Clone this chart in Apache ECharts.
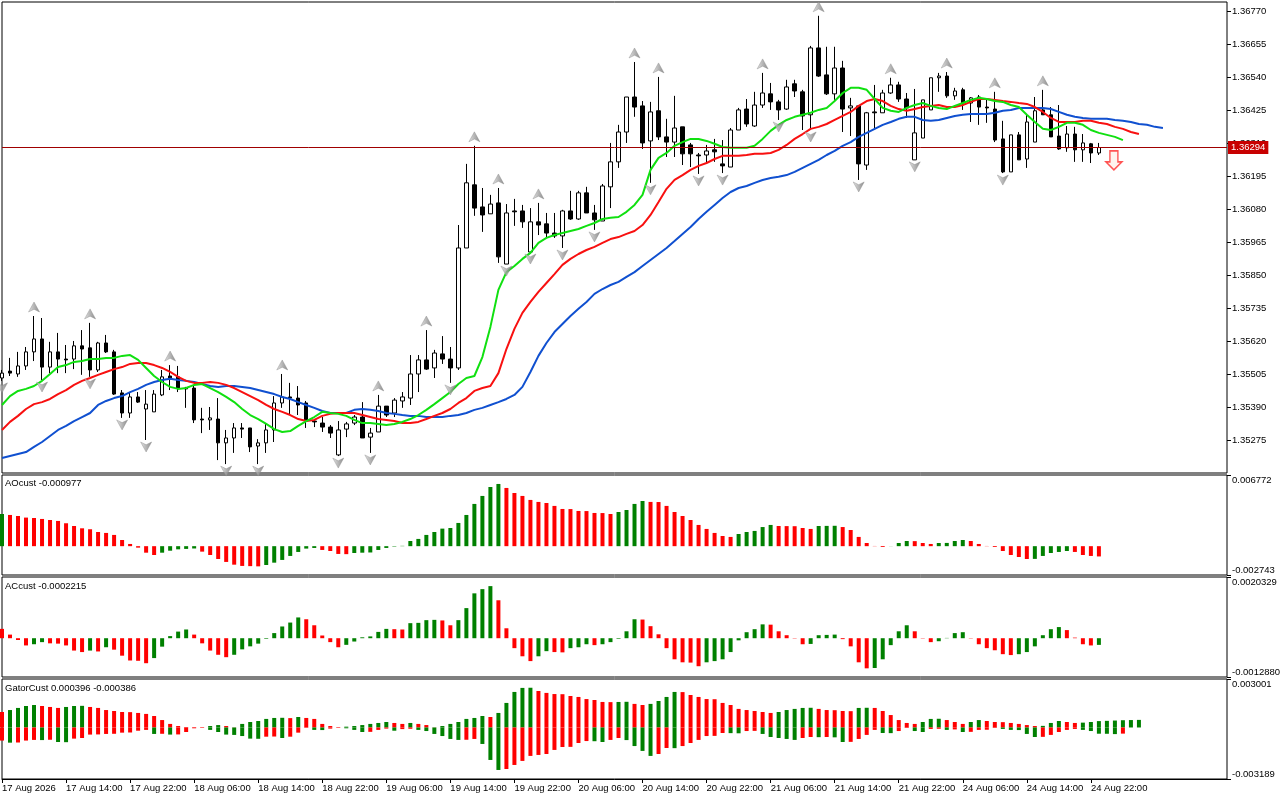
<!DOCTYPE html>
<html><head><meta charset="utf-8">
<script src="https://cdn.jsdelivr.net/npm/echarts@6/dist/echarts.min.js"></script>
<style>html,body{margin:0;padding:0;background:#fff}#c{width:1280px;height:800px}</style>
</head><body><div id="c"></div>
<script>
const tickLabels = ['17 Aug 2026','17 Aug 14:00','17 Aug 22:00','18 Aug 06:00','18 Aug 14:00','18 Aug 22:00','19 Aug 06:00','19 Aug 14:00','19 Aug 22:00','20 Aug 06:00','20 Aug 14:00','20 Aug 22:00','21 Aug 06:00','21 Aug 14:00','21 Aug 22:00','24 Aug 06:00','24 Aug 14:00','24 Aug 22:00'];
const priceTicks = [1.35275,1.35390,1.35505,1.35620,1.35735,1.35850,1.35965,1.36080,1.36195,1.36310,1.36425,1.36540,1.36655,1.36770];
const aoRange = [-0.002743, 0.006772];
const acRange = [-0.0012880, 0.0020329];
const gatorRange = [-0.003189, 0.003001];

const opens = [1.35491,1.35515,1.35505,1.35533,1.35582,1.35627,1.35529,1.35582,1.35557,1.35557,
1.35603,1.35596,1.35519,1.35613,1.35582,1.35439,1.35369,1.35425,1.35383,1.35373,
1.35432,1.35498,1.35495,1.35456,1.35456,1.35348,1.35345,1.35348,1.35265,1.35282,
1.35317,1.35317,1.35254,1.35265,1.35310,1.35404,1.35425,1.35421,1.35404,1.35341,
1.35334,1.35320,1.35223,1.35313,1.35334,1.35355,1.35285,1.35303,1.35393,1.35369,
1.35411,1.35421,1.35505,1.35554,1.35526,1.35575,1.35557,1.35526,1.35944,1.36164,
1.36087,1.36063,1.36101,1.35888,1.36073,1.36073,1.35930,1.36035,1.36028,1.35996,
1.35986,1.36073,1.36045,1.36136,1.36066,1.36038,1.36157,1.36244,1.36348,1.36470,
1.36439,1.36317,1.36422,1.36331,1.36313,1.36366,1.36303,1.36268,1.36268,1.36286,
1.36237,1.36226,1.36355,1.36428,1.36369,1.36442,1.36481,1.36453,1.36428,1.36516,
1.36488,1.36408,1.36641,1.36547,1.36481,1.36571,1.36432,1.36439,1.36233,1.36418,
1.36415,1.36484,1.36512,1.36463,1.36251,1.36327,1.36425,1.36537,1.36543,1.36474,
1.36495,1.36449,1.36470,1.36435,1.36428,1.36324,1.36209,1.36338,1.36254,1.36313,
1.36425,1.36408,1.36334,1.36293,1.36341,1.36286,1.36307,1.36275];
const closes = [1.35508,1.35508,1.35533,1.35582,1.35627,1.35529,1.35582,1.35557,1.35554,1.35603,
1.35592,1.35519,1.35613,1.35582,1.35435,1.35369,1.35425,1.35407,1.35400,1.35435,
1.35495,1.35491,1.35456,1.35453,1.35345,1.35345,1.35352,1.35265,1.35282,1.35317,
1.35313,1.35251,1.35265,1.35310,1.35404,1.35425,1.35421,1.35397,1.35341,1.35338,
1.35320,1.35299,1.35310,1.35331,1.35355,1.35282,1.35299,1.35393,1.35362,1.35414,
1.35425,1.35505,1.35554,1.35522,1.35578,1.35557,1.35526,1.35944,1.36171,1.36083,
1.36059,1.36097,1.35913,1.36066,1.36070,1.36035,1.36035,1.36024,1.35996,1.35986,
1.36073,1.36045,1.36136,1.36066,1.36042,1.36160,1.36244,1.36348,1.36470,1.36435,
1.36310,1.36418,1.36331,1.36313,1.36362,1.36272,1.36272,1.36265,1.36282,1.36279,
1.36230,1.36355,1.36425,1.36376,1.36442,1.36484,1.36453,1.36425,1.36505,1.36491,
1.36404,1.36641,1.36543,1.36481,1.36571,1.36428,1.36439,1.36237,1.36415,1.36415,
1.36484,1.36512,1.36463,1.36432,1.36345,1.36460,1.36537,1.36543,1.36474,1.36491,
1.36449,1.36467,1.36435,1.36432,1.36320,1.36209,1.36338,1.36251,1.36383,1.36422,
1.36408,1.36331,1.36289,1.36341,1.36286,1.36310,1.36275,1.36294];
const lows = [1.35481,1.35498,1.35495,1.35519,1.35550,1.35484,1.35508,1.35508,1.35508,1.35522,
1.35502,1.35495,1.35512,1.35578,1.35432,1.35352,1.35352,1.35404,1.35275,1.35373,
1.35428,1.35449,1.35442,1.35387,1.35334,1.35299,1.35310,1.35205,1.35191,1.35230,
1.35282,1.35233,1.35191,1.35230,1.35268,1.35387,1.35362,1.35362,1.35317,1.35320,
1.35303,1.35282,1.35219,1.35285,1.35327,1.35282,1.35230,1.35303,1.35355,1.35355,
1.35387,1.35397,1.35442,1.35519,1.35491,1.35540,1.35474,1.35519,1.35944,1.36056,
1.36000,1.36063,1.35892,1.35888,1.36021,1.36014,1.35930,1.35989,1.35979,1.35979,
1.35944,1.36042,1.36042,1.36066,1.36007,1.36038,1.36083,1.36223,1.36310,1.36401,
1.36289,1.36171,1.36320,1.36261,1.36261,1.36233,1.36226,1.36202,1.36240,1.36244,
1.36205,1.36226,1.36355,1.36366,1.36366,1.36432,1.36425,1.36390,1.36425,1.36470,
1.36355,1.36355,1.36540,1.36477,1.36460,1.36348,1.36334,1.36181,1.36216,1.36355,
1.36415,1.36481,1.36453,1.36397,1.36251,1.36327,1.36425,1.36488,1.36467,1.36460,
1.36425,1.36383,1.36373,1.36380,1.36313,1.36205,1.36209,1.36251,1.36223,1.36313,
1.36408,1.36331,1.36286,1.36279,1.36244,1.36244,1.36240,1.36268];
const highs = [1.35519,1.35561,1.35582,1.35599,1.35707,1.35700,1.35617,1.35648,1.35606,1.35620,
1.35658,1.35683,1.35617,1.35641,1.35589,1.35449,1.35442,1.35442,1.35449,1.35449,
1.35519,1.35536,1.35533,1.35460,1.35467,1.35387,1.35390,1.35421,1.35310,1.35334,
1.35334,1.35317,1.35278,1.35331,1.35428,1.35505,1.35474,1.35463,1.35411,1.35348,
1.35355,1.35327,1.35341,1.35338,1.35362,1.35407,1.35317,1.35432,1.35393,1.35421,
1.35442,1.35571,1.35571,1.35658,1.35589,1.35637,1.35599,1.36024,1.36237,1.36300,
1.36153,1.36129,1.36153,1.36097,1.36115,1.36094,1.36083,1.36101,1.36066,1.36066,
1.36077,1.36143,1.36143,1.36157,1.36094,1.36167,1.36310,1.36373,1.36470,1.36592,
1.36456,1.36453,1.36540,1.36394,1.36474,1.36366,1.36310,1.36275,1.36303,1.36324,
1.36320,1.36362,1.36432,1.36463,1.36488,1.36554,1.36519,1.36460,1.36530,1.36530,
1.36495,1.36648,1.36753,1.36645,1.36645,1.36596,1.36467,1.36442,1.36418,1.36512,
1.36495,1.36537,1.36523,1.36484,1.36498,1.36460,1.36537,1.36554,1.36557,1.36502,
1.36502,1.36470,1.36477,1.36460,1.36488,1.36387,1.36338,1.36348,1.36408,1.36470,
1.36495,1.36435,1.36442,1.36369,1.36366,1.36341,1.36310,1.36310];

const jaw = [1.35212,1.35219,1.35226,1.35233,1.35251,1.35268,1.35289,1.35310,1.35324,1.35341,
1.35355,1.35369,1.35397,1.35411,1.35421,1.35428,1.35442,1.35453,1.35467,1.35477,
1.35484,1.35488,1.35484,1.35481,1.35477,1.35470,1.35463,1.35460,1.35463,1.35463,
1.35460,1.35456,1.35449,1.35442,1.35435,1.35425,1.35418,1.35407,1.35397,1.35387,
1.35376,1.35369,1.35369,1.35369,1.35380,1.35383,1.35380,1.35376,1.35369,1.35366,
1.35362,1.35359,1.35359,1.35355,1.35355,1.35355,1.35359,1.35362,1.35369,1.35380,
1.35387,1.35397,1.35407,1.35418,1.35432,1.35460,1.35512,1.35568,1.35613,1.35651,
1.35679,1.35707,1.35732,1.35756,1.35784,1.35801,1.35815,1.35826,1.35843,1.35860,
1.35881,1.35902,1.35923,1.35944,1.35968,1.35993,1.36017,1.36045,1.36070,1.36094,
1.36118,1.36139,1.36153,1.36160,1.36171,1.36181,1.36188,1.36192,1.36198,1.36209,
1.36223,1.36237,1.36251,1.36268,1.36282,1.36300,1.36313,1.36331,1.36345,1.36359,
1.36373,1.36383,1.36394,1.36401,1.36401,1.36390,1.36387,1.36390,1.36397,1.36404,
1.36408,1.36411,1.36411,1.36411,1.36415,1.36422,1.36425,1.36432,1.36432,1.36432,
1.36432,1.36428,1.36418,1.36408,1.36401,1.36397,1.36394,1.36394,1.36394,1.36390,
1.36387,1.36383,1.36376,1.36373,1.36366,1.36362];
const teeth = [1.35310,1.35338,1.35359,1.35383,1.35400,1.35407,1.35418,1.35435,1.35449,1.35467,
1.35481,1.35491,1.35502,1.35512,1.35522,1.35529,1.35540,1.35543,1.35543,1.35536,
1.35526,1.35512,1.35495,1.35481,1.35474,1.35474,1.35477,1.35474,1.35467,1.35456,
1.35442,1.35428,1.35414,1.35397,1.35383,1.35373,1.35362,1.35348,1.35341,1.35345,
1.35359,1.35366,1.35369,1.35369,1.35369,1.35362,1.35355,1.35348,1.35345,1.35341,
1.35334,1.35334,1.35338,1.35348,1.35359,1.35369,1.35383,1.35404,1.35421,1.35446,
1.35456,1.35463,1.35508,1.35592,1.35662,1.35718,1.35756,1.35791,1.35822,1.35853,
1.35885,1.35906,1.35923,1.35937,1.35948,1.35962,1.35975,1.35982,1.35993,1.36003,
1.36024,1.36059,1.36104,1.36150,1.36181,1.36198,1.36216,1.36230,1.36240,1.36254,
1.36265,1.36265,1.36265,1.36268,1.36272,1.36272,1.36275,1.36286,1.36303,1.36324,
1.36341,1.36359,1.36366,1.36376,1.36390,1.36404,1.36418,1.36439,1.36456,1.36463,
1.36456,1.36439,1.36428,1.36422,1.36428,1.36435,1.36439,1.36442,1.36435,1.36435,
1.36442,1.36453,1.36463,1.36463,1.36460,1.36456,1.36453,1.36449,1.36446,1.36435,
1.36418,1.36397,1.36383,1.36383,1.36383,1.36387,1.36387,1.36380,1.36376,1.36366,
1.36359,1.36348,1.36341];
const lips = [1.35397,1.35428,1.35446,1.35453,1.35463,1.35481,1.35505,1.35529,1.35536,1.35547,
1.35550,1.35557,1.35557,1.35561,1.35561,1.35568,1.35571,1.35554,1.35526,1.35498,
1.35477,1.35460,1.35453,1.35456,1.35467,1.35470,1.35456,1.35442,1.35425,1.35407,
1.35383,1.35362,1.35348,1.35331,1.35313,1.35303,1.35306,1.35324,1.35341,1.35355,
1.35373,1.35369,1.35366,1.35359,1.35345,1.35334,1.35334,1.35331,1.35327,1.35331,
1.35338,1.35348,1.35362,1.35380,1.35400,1.35421,1.35442,1.35470,1.35491,1.35498,
1.35564,1.35669,1.35798,1.35860,1.35881,1.35906,1.35927,1.35962,1.35979,1.35989,
1.35996,1.36003,1.36010,1.36021,1.36031,1.36045,1.36049,1.36052,1.36070,1.36094,
1.36129,1.36216,1.36258,1.36275,1.36300,1.36313,1.36324,1.36324,1.36317,1.36307,
1.36296,1.36293,1.36293,1.36293,1.36300,1.36324,1.36352,1.36373,1.36390,1.36401,
1.36408,1.36415,1.36425,1.36432,1.36456,1.36484,1.36502,1.36502,1.36495,1.36463,
1.36432,1.36422,1.36418,1.36432,1.36442,1.36449,1.36439,1.36432,1.36428,1.36439,
1.36449,1.36460,1.36467,1.36463,1.36456,1.36453,1.36442,1.36435,1.36408,1.36383,
1.36359,1.36355,1.36366,1.36380,1.36380,1.36373,1.36355,1.36345,1.36338,1.36331,
1.36320];

const upFractals = [4,11,21,35,47,53,59,62,67,79,82,95,102,111,118,124,130];
const downFractals = [0,5,11,15,18,28,32,42,46,56,63,66,70,74,81,87,90,97,101,107,114,125];
const sellSignal = [139, 1.36249];

const ao = [0.00306,0.00297,0.00287,0.00272,0.00268,0.00259,0.00249,0.00240,0.00218,0.00192,
0.00170,0.00161,0.00135,0.00126,0.00107,0.00059,0.00021,-0.00014,-0.00062,-0.00084,
-0.00062,-0.00043,-0.00030,-0.00026,-0.00022,-0.00052,-0.00084,-0.00122,-0.00150,-0.00176,
-0.00188,-0.00190,-0.00192,-0.00179,-0.00157,-0.00131,-0.00093,-0.00055,-0.00023,-0.00017,
-0.00036,-0.00046,-0.00074,-0.00076,-0.00065,-0.00062,-0.00060,-0.00036,-0.00017,-0.00004,
0.00003,0.00049,0.00069,0.00107,0.00135,0.00167,0.00173,0.00221,0.00297,0.00402,
0.00478,0.00563,0.00592,0.00554,0.00506,0.00478,0.00440,0.00421,0.00411,0.00383,
0.00354,0.00353,0.00335,0.00334,0.00316,0.00315,0.00306,0.00325,0.00344,0.00402,
0.00430,0.00421,0.00420,0.00383,0.00325,0.00287,0.00249,0.00202,0.00164,0.00126,
0.00097,0.00088,0.00116,0.00135,0.00145,0.00182,0.00202,0.00192,0.00191,0.00190,
0.00173,0.00164,0.00192,0.00193,0.00194,0.00182,0.00154,0.00088,0.00030,0.00002,
-0.00008,-0.00001,0.00030,0.00049,0.00048,0.00030,0.00021,0.00030,0.00031,0.00049,
0.00059,0.00049,0.00021,0.00002,-0.00008,-0.00046,-0.00084,-0.00103,-0.00122,-0.00121,
-0.00093,-0.00065,-0.00055,-0.00046,-0.00055,-0.00084,-0.00093,-0.000977];
const ac = [0.00031,0.00012,-0.00006,-0.00024,-0.00020,-0.00013,-0.00017,-0.00018,-0.00024,-0.00041,
-0.00046,-0.00041,-0.00044,-0.00030,-0.00038,-0.00058,-0.00074,-0.00075,-0.00083,-0.00066,
-0.00028,0.00007,0.00022,0.00029,0.00012,-0.00017,-0.00041,-0.00055,-0.00063,-0.00055,
-0.00037,-0.00027,-0.00018,-0.00002,0.00017,0.00039,0.00052,0.00069,0.00063,0.00043,
0.00009,-0.00013,-0.00030,-0.00022,-0.00011,0.00003,0.00006,0.00021,0.00031,0.00030,
0.00029,0.00050,0.00051,0.00060,0.00061,0.00059,0.00043,0.00060,0.00100,0.00149,
0.00163,0.00173,0.00126,0.00033,-0.00033,-0.00060,-0.00076,-0.00060,-0.00043,-0.00046,
-0.00047,-0.00033,-0.00030,-0.00020,-0.00023,-0.00020,-0.00013,-0.00002,0.00023,0.00063,
0.00062,0.00040,0.00013,-0.00033,-0.00070,-0.00080,-0.00081,-0.00093,-0.00080,-0.00076,
-0.00070,-0.00046,-0.00007,0.00020,0.00030,0.00046,0.00045,0.00023,0.00010,-0.00001,
-0.00020,-0.00019,0.00010,0.00011,0.00012,-0.00003,-0.00027,-0.00080,-0.00100,-0.00099,
-0.00070,-0.00023,0.00023,0.00043,0.00023,-0.00001,-0.00013,-0.00010,0.00001,0.00017,
0.00020,-0.00001,-0.00020,-0.00033,-0.00040,-0.00053,-0.00056,-0.00053,-0.00046,-0.00027,
0.00010,0.00030,0.00037,0.00027,0.00002,-0.00020,-0.00024,-0.0002215];
const gatorUp = [0.00096,0.00108,0.00121,0.00133,0.00139,0.00133,0.00127,0.00121,0.00127,0.00133,
0.00134,0.00127,0.00121,0.00108,0.00102,0.00096,0.00095,0.00090,0.00084,0.00071,
0.00046,0.00022,0.00009,0.00003,0.00002,0.00001,0.00009,0.00015,0.00009,0.00001,
0.00022,0.00034,0.00040,0.00053,0.00059,0.00060,0.00058,0.00065,0.00059,0.00053,
0.00022,0.00009,0.00003,0.00005,0.00009,0.00015,0.00022,0.00028,0.00034,0.00028,
0.00022,0.00028,0.00022,0.00015,0.00001,0.00009,0.00022,0.00034,0.00053,0.00059,
0.00071,0.00065,0.00090,0.00152,0.00220,0.00245,0.00246,0.00226,0.00214,0.00207,
0.00206,0.00195,0.00189,0.00176,0.00170,0.00158,0.00157,0.00158,0.00159,0.00146,
0.00139,0.00146,0.00164,0.00189,0.00220,0.00219,0.00201,0.00189,0.00176,0.00175,
0.00152,0.00139,0.00115,0.00108,0.00102,0.00096,0.00090,0.00096,0.00108,0.00115,
0.00121,0.00122,0.00115,0.00108,0.00107,0.00102,0.00101,0.00121,0.00122,0.00121,
0.00102,0.00077,0.00046,0.00028,0.00022,0.00034,0.00053,0.00054,0.00046,0.00034,
0.00022,0.00034,0.00046,0.00040,0.00034,0.00033,0.00028,0.00022,0.00015,0.00009,
0.00010,0.00028,0.00040,0.00034,0.00028,0.00030,0.00034,0.000396,0.00041,0.00043,
0.00045,0.00046,0.00047];
const gatorDown = [-0.00081,-0.00094,-0.00093,-0.00081,-0.00077,-0.00078,-0.00076,-0.00090,-0.00091,-0.00069,
-0.00065,-0.00044,-0.00043,-0.00040,-0.00039,-0.00032,-0.00031,-0.00020,-0.00015,-0.00040,
-0.00039,-0.00044,-0.00043,-0.00028,-0.00005,-0.00003,-0.00015,-0.00028,-0.00044,-0.00046,
-0.00053,-0.00069,-0.00070,-0.00057,-0.00056,-0.00065,-0.00057,-0.00032,-0.00002,-0.00015,
-0.00016,-0.00007,-0.00001,-0.00005,-0.00015,-0.00028,-0.00027,-0.00015,-0.00007,-0.00020,
-0.00010,-0.00008,-0.00015,-0.00022,-0.00040,-0.00053,-0.00071,-0.00077,-0.00076,-0.00071,
-0.00102,-0.00201,-0.00263,-0.00257,-0.00232,-0.00207,-0.00176,-0.00170,-0.00164,-0.00139,
-0.00121,-0.00120,-0.00096,-0.00084,-0.00085,-0.00090,-0.00077,-0.00065,-0.00078,-0.00115,
-0.00145,-0.00176,-0.00164,-0.00127,-0.00128,-0.00115,-0.00096,-0.00077,-0.00053,-0.00052,
-0.00034,-0.00035,-0.00036,-0.00022,-0.00021,-0.00040,-0.00059,-0.00065,-0.00071,-0.00077,
-0.00065,-0.00059,-0.00060,-0.00059,-0.00061,-0.00090,-0.00089,-0.00071,-0.00046,-0.00015,
-0.00034,-0.00035,-0.00022,-0.00003,-0.00022,-0.00028,-0.00009,-0.00008,-0.00015,-0.00012,
-0.00028,-0.00027,-0.00015,-0.00014,-0.00003,-0.00009,-0.00015,-0.00016,-0.00040,-0.00059,
-0.00058,-0.00046,-0.00028,-0.00015,-0.00009,-0.00015,-0.00022,-0.000386,-0.00039,-0.00041,
-0.00038];

const BAR_SLOTS = 154;
const FONT = 'Liberation Sans';
const FS = 9.5;
const GREEN = '#008000', RED = '#ff0000';
const lastIdx = closes.length - 1;
const lastLabelIdx = (tickLabels.length - 1) * 8;

const cats = Array.from({length: BAR_SLOTS}, (_, i) => String(i));

function colorize(vals, first, useAbs) {
  return vals.map((v, i) => {
    let c = first;
    if (i > 0) {
      const a = useAbs ? Math.abs(v) : v;
      const b = useAbs ? Math.abs(vals[i - 1]) : vals[i - 1];
      c = a > b ? GREEN : RED;
    }
    return {value: v, itemStyle: {color: c}};
  });
}

const gridBase = {left: 2, right: 53, show: true, borderColor: '#000', borderWidth: 1,
  backgroundColor: '#fff', containLabel: false, outerBoundsMode: 'none'};
const grid = [
  Object.assign({top: 2, height: 471}, gridBase),
  Object.assign({top: 475, height: 100}, gridBase),
  Object.assign({top: 577, height: 100}, gridBase),
  Object.assign({top: 679, height: 100}, gridBase)
];

const showTick = (idx) => idx % 8 === 0 && idx <= lastLabelIdx;

const xAxis = [0, 1, 2, 3].map(k => ({
  type: 'category', data: cats, gridIndex: k, boundaryGap: false,
  axisLine: {show: k === 3, onZero: false, lineStyle: {color: '#000'}},
  axisTick: {show: k === 3, interval: showTick, length: 4, lineStyle: {color: '#000'}},
  axisLabel: {
    show: k === 3, interval: showTick, align: 'left', margin: 4,
    fontFamily: FONT, fontSize: FS, color: '#000',
    formatter: (v) => tickLabels[Number(v) / 8] || ''
  },
  splitLine: {show: false}
}));

function subAxis(k, range, digits) {
  return {
    type: 'value', gridIndex: k, position: 'right', min: range[0], max: range[1],
    splitLine: {show: false},
    axisLine: {show: false},
    axisTick: {show: true, length: 4, customValues: range, lineStyle: {color: '#000'}},
    axisLabel: {
      customValues: range, margin: 5, fontFamily: FONT, fontSize: FS, color: '#000',
      verticalAlignMinLabel: 'bottom', verticalAlignMaxLabel: 'top',
      formatter: v => v.toFixed(digits)
    }
  };
}

const yAxis = [
  {
    type: 'value', gridIndex: 0, position: 'right', min: 1.35160, max: 1.36801, scale: true,
    splitLine: {show: false},
    axisLine: {show: false},
    axisTick: {show: true, length: 4, customValues: priceTicks, lineStyle: {color: '#000'}},
    axisLabel: {customValues: priceTicks, margin: 5, fontFamily: FONT, fontSize: FS, color: '#000',
      formatter: v => v.toFixed(5)}
  },
  subAxis(1, aoRange, 6),
  subAxis(2, acRange, 7),
  subAxis(3, gatorRange, 6)
];

const fractalColor = {type: 'linear', x: 0, y: 0, x2: 1, y2: 0,
  colorStops: [{offset: 0, color: '#dcdcdc'}, {offset: 0.5, color: '#a4a4a4'}, {offset: 1, color: '#707070'}]};

const titleStyle = {fontFamily: FONT, fontSize: FS, fontWeight: 'normal', color: '#000'};

const option = {
  animation: false,
  backgroundColor: '#fff',
  title: [
    {text: 'AOcust ' + ao[lastIdx], left: 5, top: 478.5, padding: 0, textStyle: titleStyle},
    {text: 'ACcust ' + ac[lastIdx], left: 5, top: 581.5, padding: 0, textStyle: titleStyle},
    {text: 'GatorCust ' + gatorUp[lastIdx] + ' ' + gatorDown[lastIdx], left: 5, top: 683.5, padding: 0, textStyle: titleStyle}
  ],
  grid, xAxis, yAxis,
  series: [
    {
      type: 'candlestick', xAxisIndex: 0, yAxisIndex: 0, barWidth: 4, z: 2,
      data: opens.map((o, i) => [o, closes[i], lows[i], highs[i]]),
      itemStyle: {color: '#fff', color0: '#000', borderColor: '#000', borderColor0: '#000', borderWidth: 1},
      markLine: {
        silent: true, symbol: ['none', 'none'], animation: false, precision: 5,
        data: [{yAxis: closes[lastIdx]}],
        lineStyle: {color: '#a00000', width: 1, type: 'solid'},
        label: {show: true, position: 'end', distance: 1, formatter: p => Number(p.value).toFixed(5),
          color: '#fff', backgroundColor: '#c80000', padding: [2, 3, 1, 3],
          fontFamily: FONT, fontSize: FS},
        emphasis: {disabled: true}
      }
    },
    {type: 'line', xAxisIndex: 0, yAxisIndex: 0, data: jaw, showSymbol: false, z: 3,
      lineStyle: {color: '#1050d0', width: 2}, itemStyle: {color: '#1050d0'}},
    {type: 'line', xAxisIndex: 0, yAxisIndex: 0, data: teeth, showSymbol: false, z: 3,
      lineStyle: {color: '#f81010', width: 2}, itemStyle: {color: '#f81010'}},
    {type: 'line', xAxisIndex: 0, yAxisIndex: 0, data: lips, showSymbol: false, z: 3,
      lineStyle: {color: '#10e010', width: 2}, itemStyle: {color: '#10e010'}},
    {type: 'scatter', xAxisIndex: 0, yAxisIndex: 0, z: 4,
      data: upFractals.map(i => [i, highs[i]]),
      symbol: 'path://M5,0 L10,11 L5,8 L0,11 Z', symbolSize: [11, 10], symbolOffset: [0, -9],
      itemStyle: {color: fractalColor, borderColor: '#8a8a8a', borderWidth: 0.5}},
    {type: 'scatter', xAxisIndex: 0, yAxisIndex: 0, z: 4,
      data: downFractals.map(i => [i, lows[i]]),
      symbol: 'path://M0,0 L5,3 L10,0 L5,11 Z', symbolSize: [11, 10], symbolOffset: [0, 7],
      itemStyle: {color: fractalColor, borderColor: '#8a8a8a', borderWidth: 0.5}},
    {type: 'scatter', xAxisIndex: 0, yAxisIndex: 0, z: 5,
      data: [sellSignal],
      symbol: 'path://M4,0 L12,0 L12,11 L16,11 L8,19 L0,11 L4,11 Z', symbolSize: [16, 19], symbolOffset: [-1, 0],
      itemStyle: {color: '#fff0ea', borderColor: '#ff2a2a', borderWidth: 1.5}},
    {type: 'bar', xAxisIndex: 1, yAxisIndex: 1, barWidth: 4, data: colorize(ao, GREEN, false)},
    {type: 'bar', xAxisIndex: 2, yAxisIndex: 2, barWidth: 4, data: colorize(ac, RED, false)},
    {type: 'bar', xAxisIndex: 3, yAxisIndex: 3, barWidth: 4, barGap: '-100%', data: colorize(gatorUp, RED, true)},
    {type: 'bar', xAxisIndex: 3, yAxisIndex: 3, barWidth: 4, barGap: '-100%', data: colorize(gatorDown, RED, true)}
  ]
};

const chart = echarts.init(document.getElementById('c'), null, {renderer: 'canvas'});
chart.setOption(option);
</script>
</body></html>
